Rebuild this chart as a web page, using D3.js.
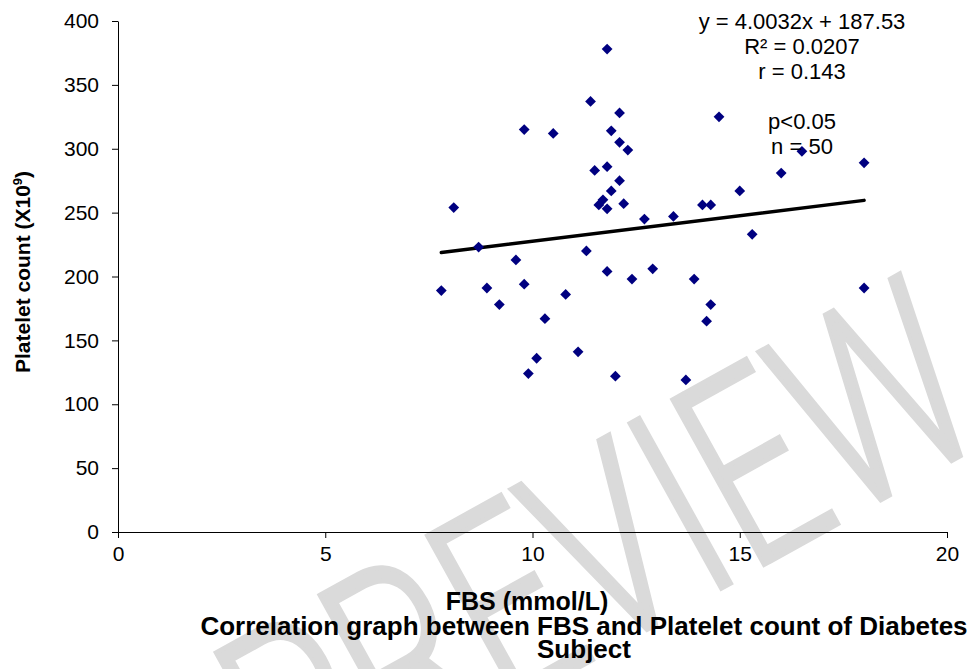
<!DOCTYPE html>
<html>
<head>
<meta charset="utf-8">
<script src="https://cdn.jsdelivr.net/npm/d3@7"></script>
<style>
  body { margin: 0; background: #fff; }
  svg { display: block; }
  text { font-family: "Liberation Sans", Arial, sans-serif; }
</style>
</head>
<body>
<div id="chart"></div>
<script>
// values
var fbs = [11.8, 11.4, 12.1, 9.8, 10.5, 11.9, 12.1, 12.3, 11.5, 11.8,
           12.1, 11.9, 8.1, 11.6, 11.7, 11.8, 12.2, 12.7, 13.4, 14.1,
           14.3, 14.5, 16.5, 18.0, 16.0, 15.0, 15.3, 13.9, 14.3, 18.0,
           8.7, 7.8, 8.9, 9.2, 9.6, 9.8, 10.3, 10.8, 11.3, 11.8,
           12.4, 12.9, 10.1, 9.9, 11.1, 12.0, 13.7, 14.2];
var platelet = [378, 337, 328, 315, 312, 314, 305, 299, 283, 286,
                275, 267, 254, 256, 260, 253, 257, 245, 247, 256,
                256, 325, 298, 289, 281, 267, 233, 198, 178, 191,
                223, 189, 191, 178, 213, 194, 167, 186, 220, 204,
                198, 206, 136, 124, 141, 122, 119, 165];
var xTicks = [0, 5, 10, 15, 20];
var yTicks = [0, 50, 100, 150, 200, 250, 300, 350, 400];
var slope = 4.0032, intercept = 187.53;
var statLines = ["y = 4.0032x + 187.53", "R\u00b2 = 0.0207", "r = 0.143", "", "p<0.05", "n = 50"];
var titleLines = ["Correlation graph between FBS and Platelet count of Diabetes", "Subject"];

var W = 969, H = 669;
var plotLeft = 118, plotRight = 947, plotTop = 21, plotBottom = 532;

var svg = d3.select("#chart").append("svg")
    .attr("width", W)
    .attr("height", H);

// watermark, behind everything
svg.append("text")
    .attr("transform", "translate(600,552) rotate(-29)")
    .attr("text-anchor", "middle")
    .attr("dominant-baseline", "central")
    .attr("textLength", 805)
    .attr("lengthAdjust", "spacingAndGlyphs")
    .style("font-family", "Roboto, sans-serif")
    .style("font-weight", 300)
    .style("font-size", "265px")
    .style("fill", "#dadada")
    .style("stroke", "#dadada")
    .style("stroke-width", 5)
    .text("PREVIEW");

var x = d3.scaleLinear().domain([0, 20]).range([plotLeft, plotRight]);
var y = d3.scaleLinear().domain([0, 400]).range([plotBottom, plotTop]);

var xAxis = svg.append("g")
    .attr("transform", "translate(0," + plotBottom + ")")
    .call(d3.axisBottom(x).tickValues(xTicks).tickSize(6).tickSizeOuter(0).tickPadding(8));
var yAxis = svg.append("g")
    .attr("transform", "translate(" + plotLeft + ",0)")
    .call(d3.axisLeft(y).tickValues(yTicks).tickSize(6).tickSizeOuter(0).tickPadding(13));

[xAxis, yAxis].forEach(function(g) {
  g.selectAll("path, line").style("stroke", "#000").style("stroke-width", 1);
  g.selectAll("text")
    .style("font-family", "'Liberation Sans', Arial, sans-serif")
    .style("font-size", "21px")
    .style("fill", "#000");
});

// trend line over the x range of the data
var x0 = d3.min(fbs), x1 = d3.max(fbs);
svg.append("line")
    .attr("x1", x(x0)).attr("y1", y(slope * x0 + intercept))
    .attr("x2", x(x1)).attr("y2", y(slope * x1 + intercept))
    .style("stroke", "#000")
    .style("stroke-width", 3.5)
    .style("stroke-linecap", "round");

var diamond = d3.symbol().type(d3.symbolSquare).size(58);
svg.selectAll(".pt")
    .data(fbs)
    .enter().append("path")
    .attr("class", "pt")
    .attr("d", diamond)
    .attr("transform", function(d, i) {
      return "translate(" + x(d) + "," + y(platelet[i]) + ") rotate(45)";
    })
    .style("fill", "#000080");

// regression stats
svg.selectAll(".stat")
    .data(statLines)
    .enter().append("text")
    .attr("class", "stat")
    .attr("x", 802)
    .attr("y", function(d, i) { return 29 + i * 25; })
    .attr("text-anchor", "middle")
    .style("font-size", "22px")
    .text(function(d) { return d; });

// axis titles
svg.append("text")
    .attr("transform", "translate(30,272) rotate(-90)")
    .attr("text-anchor", "middle")
    .style("font-size", "21px")
    .style("font-weight", "bold")
    .html("Platelet count (X10<tspan dy='-8' font-size='13px'>9</tspan><tspan dy='8'>)</tspan>");

svg.append("text")
    .attr("x", 527)
    .attr("y", 610)
    .attr("text-anchor", "middle")
    .style("font-size", "25px")
    .style("font-weight", "bold")
    .text("FBS (mmol/L)");

svg.selectAll(".title")
    .data(titleLines)
    .enter().append("text")
    .attr("class", "title")
    .attr("x", 584)
    .attr("y", function(d, i) { return 635 + i * 23; })
    .attr("text-anchor", "middle")
    .style("font-size", "26px")
    .style("font-weight", "bold")
    .text(function(d) { return d; });
</script>
</body>
</html>
